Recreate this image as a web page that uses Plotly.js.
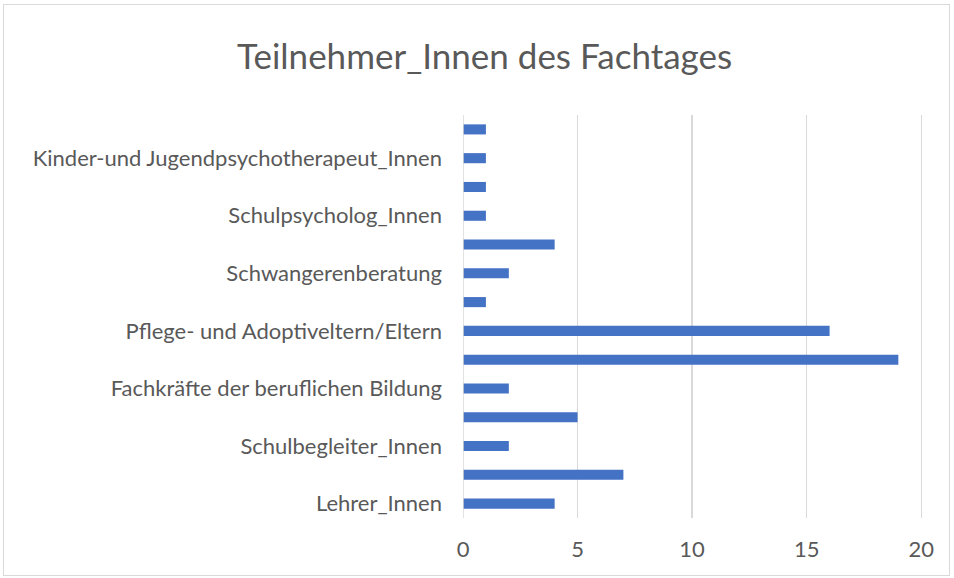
<!DOCTYPE html>
<html><head><meta charset="utf-8">
<script src="https://cdn.plot.ly/plotly-3.0.1.min.js"></script>
<style>body{margin:0;background:#fff}#wrap{position:relative;width:954px;height:578px}#chart{width:954px;height:578px}#frame{position:absolute;left:3px;top:4px;width:945px;height:570px;border:1.5px solid #d9d9d9;pointer-events:none}</style>
</head><body><div id="wrap"><div id="chart"></div><div id="frame"></div></div>
<script>
// Values bottom-to-top (positions 0..13)
const positions = [0,1,2,3,4,5,6,7,8,9,10,11,12,13];
const values = [4,7,2,5,2,19,16,1,2,4,1,1,1,1];
const labelPositions = [0,2,4,6,8,10,12];
const labelTexts = ["Lehrer_Innen","Schulbegleiter_Innen","Fachkräfte der beruflichen Bildung","Pflege- und Adoptiveltern/Eltern","Schwangerenberatung","Schulpsycholog_Innen","Kinder-und Jugendpsychotherapeut_Innen"];
const xTicks = [0,5,10,15,20];
const FONT = "Lato, 'Open Sans', sans-serif";
Plotly.newPlot('chart', [{
  type:'bar', orientation:'h', x: values, y: positions,
  width: 0.35, marker:{color:'#4472C4'}, hoverinfo:'x'
}], {
  width:954, height:578,
  margin:{l:463, r:30, t:115, b:60},
  paper_bgcolor:'#fff', plot_bgcolor:'#fff',
  title:{text:'Teilnehmer_Innen des Fachtages', x:0.508, xanchor:'center', y:0.902, yanchor:'middle', font:{family:FONT, size:35, color:'#595959'}},
  font:{family:FONT, color:'#595959'},
  xaxis:{range:[0,20.12], tickvals:xTicks, showgrid:true, gridcolor:'#d9d9d9', gridwidth:1.5, zeroline:false, showline:false, tickfont:{size:22, color:'#595959'}, ticks:'', ticklabelstandoff:16, fixedrange:true},
  yaxis:{range:[-0.5,13.5], tickvals:labelPositions, ticktext:labelTexts, showgrid:false, zeroline:false, showline:false, ticks:'', tickfont:{size:22, color:'#595959'}, ticklabelstandoff:20, fixedrange:true},
  shapes:[{type:'line', xref:'x', yref:'paper', x0:0, x1:0, y0:0, y1:1, line:{color:'#d9d9d9', width:1.5}}],
  showlegend:false
}, {displayModeBar:false, staticPlot:true});
</script></body></html>
